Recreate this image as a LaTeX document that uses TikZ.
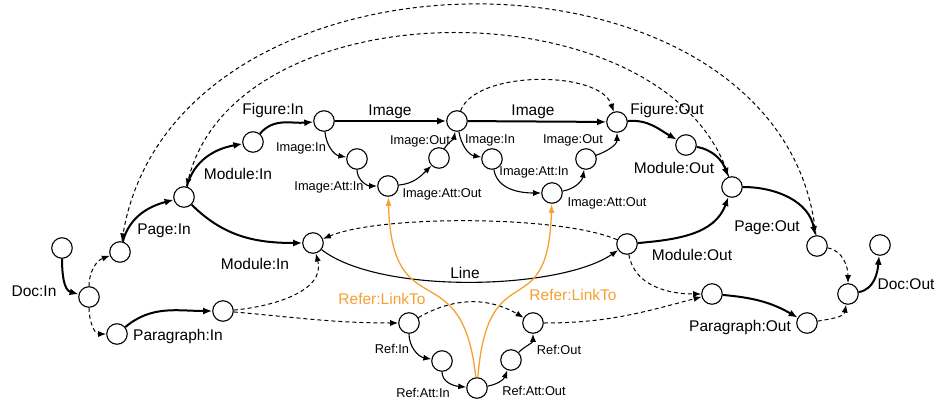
\documentclass[tikz,border=0pt]{standalone}
\usepackage{fontspec}
\setmainfont{Liberation Sans}
\usetikzlibrary{arrows.meta}
\definecolor{refor}{RGB}{247,160,50}
\begin{document}
\begin{tikzpicture}[x=1pt,y=1pt,
  st/.style={circle,draw,fill=white,line width=1.1pt,minimum size=20.5pt,inner sep=0pt},
  big/.style={font=\fontsize{15.5}{18}\selectfont,inner sep=0pt},
  sml/.style={font=\fontsize{12.8}{15}\selectfont,inner sep=0pt},
  thk/.style={line width=2pt,-{Latex[length=9pt,width=7pt]}},
  thn/.style={line width=1.1pt,-{Latex[length=8pt,width=6pt]}},
  dsh/.style={line width=1pt,dash pattern=on 4pt off 3pt,-{Latex[length=8pt,width=6pt]}},
  org/.style={draw=refor,line width=1.3pt,-{Latex[length=9pt,width=6pt]}}
]
\useasboundingbox (0,0) rectangle (938,-405);
% states
\node[st] (d0) at (62,-248) {};
\node[st] (din) at (89,-297) {};
\node[st] (pin) at (120,-252) {};
\node[st] (p2) at (184,-197) {};
\node[st] (m1) at (253,-142) {};
\node[st] (f1) at (324,-121) {};
\node[st] (ia1) at (357,-159) {};
\node[st] (ia2) at (388,-186) {};
\node[st] (ia3) at (439,-158) {};
\node[st] (f2) at (457,-121) {};
\node[st] (ib1) at (492,-159) {};
\node[st] (ib2) at (552,-193) {};
\node[st] (ib3) at (586,-159) {};
\node[st] (f3) at (617,-122) {};
\node[st] (mo1) at (686,-145) {};
\node[st] (po1) at (732,-187) {};
\node[st] (pout) at (817,-246) {};
\node[st] (dout) at (848,-294) {};
\node[st] (dend) at (880,-245) {};
\node[st] (mbl) at (313,-243) {};
\node[st] (mbr) at (627,-244) {};
\node[st] (pa1) at (117,-334) {};
\node[st] (pa2) at (223,-311) {};
\node[st] (r1) at (409,-323) {};
\node[st] (r2) at (442,-361) {};
\node[st] (r3) at (477,-388) {};
\node[st] (r4) at (511,-360) {};
\node[st] (r5) at (533,-323) {};
\node[st] (pb1) at (712,-294) {};
\node[st] (pb2) at (807,-323) {};
% thick edges
\draw[thk] (d0) to[out=-90,in=165] (din);
\draw[thk] (pin) to[out=75,in=195] (p2);
\draw[thk] (p2) to[out=75,in=190] (m1);
\draw[thk] (m1) to[out=50,in=185] (f1);
\draw[thk] (f1) -- (f2);
\draw[thk] (f2) -- (f3);
\draw[thk] (f3) to[out=5,in=150] (mo1);
\draw[thk] (mo1) to[out=-10,in=110] (po1);
\draw[thk] (po1) to[out=0,in=100] (pout);
\draw[thk] (p2) to[out=-45,in=180] (mbl);
\draw[thk] (mbr) to[out=5,in=-110] (po1);
\draw[thk] (pa1) to[out=40,in=180] (pa2);
\draw[thk] (pb1) to[out=-5,in=150] (pb2);
\draw[thk] (dout) to[out=10,in=-95] (dend);
% line
\draw[thn] (mbl) .. controls (380,-295) and (560,-290) .. (mbr);
% image chains
\draw[thn] (f1) to[out=-85,in=170] (ia1);
\draw[thn] (ia1) to[out=-90,in=180] (ia2);
\draw[thn] (ia2) to[out=5,in=-135] (ia3);
\draw[thn] (ia3) to[out=60,in=-100] (f2);
\draw[thn] (f2) to[out=-80,in=170] (ib1);
\draw[thn] (ib1) to[out=-80,in=180] (ib2);
\draw[thn] (ib2) to[out=10,in=-100] (ib3);
\draw[thn] (ib3) to[out=20,in=-90] (f3);
% ref chain
\draw[thn] (r1) to[out=-90,in=170] (r2);
\draw[thn] (r2) to[out=-90,in=175] (r3);
\draw[thn] (r3) to[out=10,in=-110] (r4);
\draw[thn] (r4) to[out=45,in=-90] (r5);
% dashed
\draw[dsh] (din) to[out=90,in=200] (pin);
\draw[dsh] (din) to[out=-90,in=180] (pa1);
\draw[dsh] (mbr) .. controls (560,-215) and (380,-215) .. (mbl);
\draw[dsh] (pa2) to[out=5,in=-75] (mbl);
\draw[dsh] (pa2) to[out=-5,in=180] (r1);
\draw[dsh] (r1) to[out=30,in=150] (r5);
\draw[dsh] (r5) to[out=0,in=195] (pb1);
\draw[dsh] (mbr) to[out=-80,in=180] (pb1);
\draw[dsh] (pout) to[out=-10,in=90] (dout);
\draw[dsh] (pb2) to[out=10,in=-100] (dout);
\draw[dsh] (f2) .. controls (475,-70) and (600,-70) .. (f3);
\draw[dsh] (pout) .. controls (785,73) and (175,73) .. (pin);
\draw[dsh] (po1) .. controls (668,16) and (237,16) .. (p2);
% refer links
\draw[org] (r3) .. controls (462,-250) and (392,-330) .. (ia2);
\draw[org] (r3) .. controls (488,-250) and (548,-330) .. (ib2);
% labels
\node[big] (lDocIn) at (34,-291) {Doc:In};
\node[big] (lPageIn) at (164,-231) {Page:In};
\node[big] (lModInB) at (255,-264) {Module:In};
\node[big] (lParaIn) at (178,-336) {Paragraph:In};
\node[big] (lModInT) at (238,-174) {Module:In};
\node[big] (lFigIn) at (273,-110) {Figure:In};
\node[sml] (lImgInA) at (301,-148) {Image:In};
\node[big] (lImgA) at (390,-112) {Image};
\node[sml] (lImgOutA) at (420,-141) {Image:Out};
\node[sml] (lAttInA) at (329,-187) {Image:Att:In};
\node[sml] (lAttOutA) at (442,-194) {Image:Att:Out};
\node[big] (lImgB) at (533,-112) {Image};
\node[sml] (lImgInB) at (490,-140) {Image:In};
\node[sml] (lImgOutB) at (573,-140) {Image:Out};
\node[sml] (lAttInB) at (534,-172) {Image:Att:In};
\node[sml] (lAttOutB) at (607,-203) {Image:Att:Out};
\node[big] (lFigOut) at (667,-110) {Figure:Out};
\node[big] (lModOutT) at (674,-168) {Module:Out};
\node[big] (lPageOut) at (767,-228) {Page:Out};
\node[big] (lModOutB) at (692,-255) {Module:Out};
\node[big] (lDocOut) at (906,-284) {Doc:Out};
\node[big] (lParaOut) at (740,-327) {Paragraph:Out};
\node[big] (lLine) at (465,-273) {Line};
\node[big,text=refor] (lRefA) at (382,-299) {Refer:LinkTo};
\node[big,text=refor] (lRefB) at (573,-295) {Refer:LinkTo};
\node[sml] (lRefIn) at (392,-349) {Ref:In};
\node[sml] (lRefAttIn) at (423,-393) {Ref:Att:In};
\node[sml] (lRefOut) at (559,-350) {Ref:Out};
\node[sml] (lRefAttOut) at (534,-391) {Ref:Att:Out};
\end{tikzpicture}
\end{document}
